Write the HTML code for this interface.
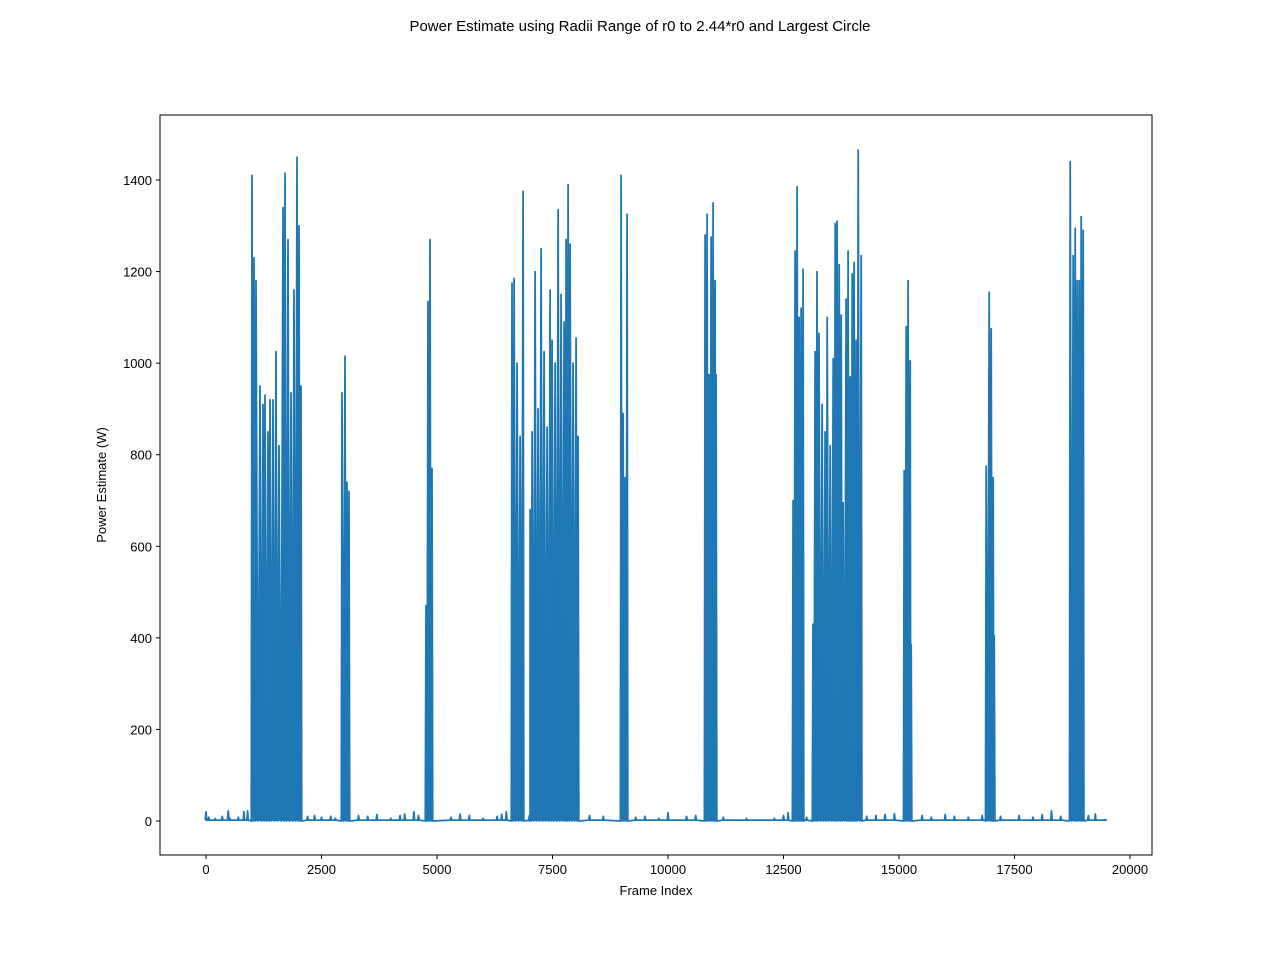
<!DOCTYPE html>
<html><head><meta charset="utf-8"><style>
body{margin:0;background:#fff;}
svg{display:block;font-family:"Liberation Sans",sans-serif;}
</style></head><body>
<svg id="chart" width="1280" height="960" viewBox="0 0 1280 960">
<rect width="1280" height="960" fill="#fff"/>
<text x="640" y="31" text-anchor="middle" font-size="15">Power Estimate using Radii Range of r0 to 2.44*r0 and Largest Circle</text>
<g id="plot"></g>
<rect x="160" y="115" width="992" height="740" fill="none" stroke="#000" stroke-width="1"/>
<text x="656" y="895" text-anchor="middle" font-size="13">Frame Index</text>
<text transform="translate(106,485) rotate(-90)" text-anchor="middle" font-size="13">Power Estimate (W)</text>
</svg>
<script>
const xTicks=[0,2500,5000,7500,10000,12500,15000,17500,20000];
const yTicks=[0,200,400,600,800,1000,1200,1400];
const burstFrames=[996,1039,1082,1169,1234,1277,1342,1386,1450,1515,1580,1667,1710,1775,1840,1905,1970,2013,2057,
 null,2944,3009,3053,3096,
 null,4762,4805,4849,4892,
 null,6624,6668,6733,6798,6863,
 null,7015,7058,7123,7188,7253,7318,7383,7448,7491,7556,7621,7686,7751,7794,7837,7881,7946,8011,8054,
 null,8985,9028,9072,9115,
 null,10803,10846,10889,10933,10976,11019,11041,
 null,12708,12752,12795,12838,12881,12925,
 null,13139,13183,13226,13269,13336,13401,13445,13510,13575,13618,13661,13705,13748,13791,13856,13899,13943,13986,14029,14073,14116,14181,
 null,15112,15155,15198,15242,15263,
 null,16887,16952,16995,17039,17060,
 null,18706,18771,18814,18857,18900,18944,18987];
const burstValues=[1410,1230,1180,950,910,930,850,920,920,1025,820,1340,1415,1270,935,1160,1450,1300,950,
 null,935,1015,740,720,
 null,470,1135,1270,770,
 null,1175,1185,1000,840,1375,
 null,680,850,1200,900,1250,1025,860,1160,1050,1000,1335,1150,1090,1270,1390,1260,1000,1055,840,
 null,1410,890,750,1325,
 null,1280,1325,975,1275,1350,1180,975,
 null,700,1245,1385,1100,1120,1205,
 null,430,1025,1200,1065,910,850,1100,820,1010,1305,1310,1215,1105,695,1140,1245,970,1195,1220,1050,1465,1235,
 null,765,1080,1180,1005,385,
 null,775,1155,1075,750,405,
 null,1440,1235,1295,1180,1180,1320,1290];
const noiseFrames=[0,60,200,350,480,520,700,820,900,2200,2350,2500,2700,2800,3300,3500,3700,4000,4200,4300,4500,4600,5300,5500,5700,6000,6300,6400,6500,7000,8300,8600,9300,9500,9800,10000,10400,10600,11200,11700,12300,12500,12600,13000,14300,14500,14700,14900,15500,15700,16000,16200,16500,16800,17200,17600,17900,18100,18300,18500,19100,19250,19450];
const noiseValues=[20,8,5,10,22,6,8,20,22,10,12,8,10,6,12,10,14,6,12,15,20,12,8,15,12,6,10,15,20,12,12,10,8,10,6,18,10,12,8,6,6,12,18,8,10,12,14,16,12,8,14,10,8,12,10,12,8,14,22,10,12,15,3];

const X0=160,X1=1152,Y0=115,Y1=855;
const xs=v=>206+v*(1130-206)/20000;
const ys=v=>821-v*(821-180)/1400;
const NS="http://www.w3.org/2000/svg";
const svg=document.getElementById('chart');
const plot=document.getElementById('plot');
function mk(t,a,parent){const e=document.createElementNS(NS,t);for(const k in a)e.setAttribute(k,a[k]);(parent||svg).appendChild(e);return e;}

xTicks.forEach(t=>{
 const g=mk('g',{});
 
 
 mk('line',{x1:xs(t),x2:xs(t),y1:Y1,y2:Y1+4,stroke:'#000'},g);
 const tx=mk('text',{x:xs(t),y:Y1+19,'text-anchor':'middle','font-size':13},g);tx.textContent=t;
});
yTicks.forEach(t=>{
 const g=mk('g',{});
 
 
 mk('line',{x1:X0-4,x2:X0,y1:ys(t),y2:ys(t),stroke:'#000'},g);
 const tx=mk('text',{x:X0-8,y:ys(t)+5,'text-anchor':'end','font-size':13},g);tx.textContent=t;
});

let pts=[];
noiseFrames.forEach((f,i)=>{pts.push([f-15,2]);pts.push([f,noiseValues[i]]);pts.push([f+15,2]);});
let prev=null;
burstFrames.forEach((f,i)=>{
 if(f===null){prev=null;return;}
 if(prev!==null){pts.push([(prev+f)/2,0]);}
 else pts.push([f-15,0]);
 pts.push([f,burstValues[i]]);
 const nxt=burstFrames[i+1];
 if(nxt===null||nxt===undefined)pts.push([f+15,0]);
 prev=f;
});
pts.push([19500,2]);
pts.sort((a,b)=>a[0]-b[0]);
let d=pts.map((p,i)=>(i?'L':'M')+xs(p[0]).toFixed(1)+','+ys(p[1]).toFixed(1)).join('');
const fillPath=mk('path',{d:d+'L'+xs(19500)+','+ys(0)+'L'+xs(0)+','+ys(0)+'Z',fill:'#1f77b4',stroke:'none'},plot);


const line=mk('path',{d:d,fill:'none',stroke:'#1f77b4','stroke-width':1.8,'stroke-linejoin':'round'},plot);


</script>
</body></html>
